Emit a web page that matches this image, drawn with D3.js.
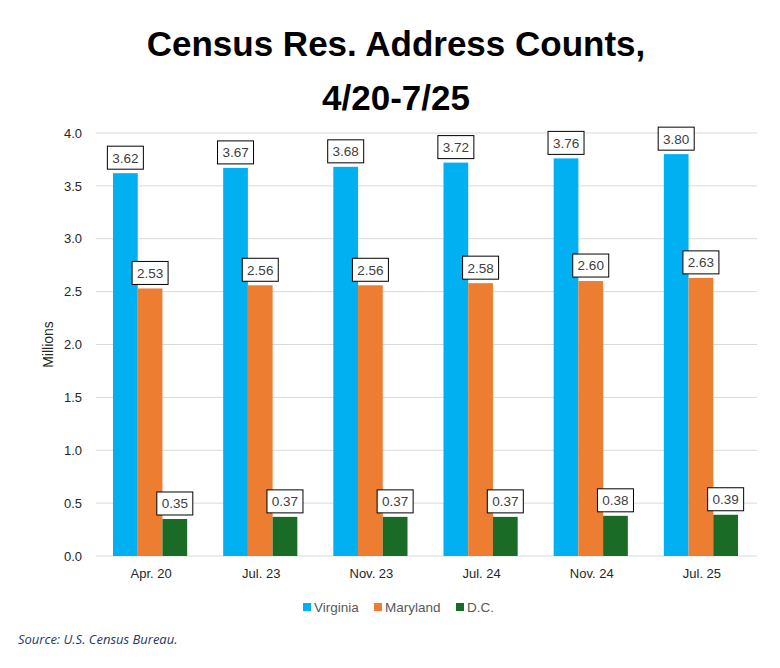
<!DOCTYPE html>
<html>
<head>
<meta charset="utf-8">
<script src="https://cdn.jsdelivr.net/npm/d3@7"></script>
<style>
  body { margin: 0; background: #fff; }
  svg text { font-family: "Liberation Sans", Arial, sans-serif; }
</style>
</head>
<body>
<svg id="chart" width="780" height="668"></svg>
<script>
const width = 780, height = 668;

const categories = ['Apr. 20', 'Jul. 23', 'Nov. 23', 'Jul. 24', 'Nov. 24', 'Jul. 25'];
const seriesNames = ['Virginia', 'Maryland', 'D.C.'];
const virginia = [3.62, 3.67, 3.68, 3.72, 3.76, 3.80];
const maryland = [2.53, 2.56, 2.56, 2.58, 2.60, 2.63];
const dc = [0.35, 0.37, 0.37, 0.37, 0.38, 0.39];
const yTicks = [0, 0.5, 1, 1.5, 2, 2.5, 3, 3.5, 4];

const colors = {'Virginia': '#00b0f0', 'Maryland': '#ed7d31', 'D.C.': '#1a6b25'};
const seriesValues = {'Virginia': virginia, 'Maryland': maryland, 'D.C.': dc};

const fig = {
  margin: {top: 133, right: 23, bottom: 112, left: 96}
};
fig.height = height - fig.margin.top - fig.margin.bottom;
fig.width = width - fig.margin.right - fig.margin.left;

const svg = d3.select('#chart');

const x = d3.scaleBand()
  .domain(categories)
  .range([0, fig.width]);

const xInner = d3.scaleBand()
  .domain(seriesNames)
  .range([17, x.bandwidth() - 19]);

const y = d3.scaleLinear()
  .domain([0, 4])
  .range([fig.height, 0]);

const g = svg.append('g')
  .attr('transform', 'translate(' + fig.margin.left + ',' + fig.margin.top + ')');

// gridlines
g.append('g')
  .selectAll('line')
  .data(yTicks)
  .join('line')
    .attr('x1', 0)
    .attr('x2', fig.width)
    .attr('y1', d => y(d))
    .attr('y2', d => y(d))
    .style('stroke', '#d9d9d9')
    .style('stroke-width', 1);

// y axis labels
const yAxis = d3.axisLeft(y)
  .tickValues(yTicks)
  .tickFormat(d3.format('.1f'))
  .tickSize(0)
  .tickPadding(14);

g.append('g')
  .call(yAxis)
  .call(a => a.select('.domain').remove())
  .selectAll('text')
    .style('font-size', '13px')
    .style('fill', '#262626');

// x axis labels
const xAxis = d3.axisBottom(x).tickSize(0).tickPadding(13);
g.append('g')
  .attr('transform', 'translate(0,' + fig.height + ')')
  .call(xAxis)
  .call(a => a.select('.domain').remove())
  .selectAll('text')
    .style('font-size', '13px')
    .style('fill', '#262626');

// bars
const rows = categories.map((c, i) => ({
  cat: c,
  items: seriesNames.map(s => ({series: s, value: seriesValues[s][i]}))
}));

const groups = g.selectAll('.grp')
  .data(rows)
  .join('g')
    .attr('class', 'grp')
    .attr('transform', d => 'translate(' + x(d.cat) + ',0)');

groups.selectAll('rect')
  .data(d => d.items)
  .join('rect')
    .attr('x', d => xInner(d.series))
    .attr('y', d => y(d.value))
    .attr('width', xInner.bandwidth())
    .attr('height', d => fig.height - y(d.value))
    .style('fill', d => colors[d.series]);

// data labels with boxes
const labels = groups.selectAll('.lbl')
  .data(d => d.items)
  .join('g')
    .attr('class', 'lbl')
    .attr('transform', d => 'translate(' + (xInner(d.series) + xInner.bandwidth() / 2) + ',' + (y(d.value) - 15.5) + ')');

labels.append('rect')
  .attr('x', -18)
  .attr('y', -11.5)
  .attr('width', 36)
  .attr('height', 23)
  .style('fill', '#fff')
  .style('stroke', '#000')
  .style('stroke-width', 1);

labels.append('text')
  .attr('text-anchor', 'middle')
  .attr('dy', '0.36em')
  .style('font-size', '13.5px')
  .style('fill', '#404040')
  .text(d => d3.format('.2f')(d.value));

// y axis title
svg.append('text')
  .attr('transform', 'translate(53,' + (fig.margin.top + fig.height / 2) + ') rotate(-90)')
  .attr('text-anchor', 'middle')
  .style('font-size', '14px')
  .style('fill', '#262626')
  .text('Millions');

// title
svg.append('text')
  .attr('text-anchor', 'middle')
  .attr('x', 396)
  .attr('y', 56)
  .style('font-size', '35px')
  .style('font-weight', 'bold')
  .style('fill', '#000')
  .text('Census Res. Address Counts,');
svg.append('text')
  .attr('text-anchor', 'middle')
  .attr('x', 396)
  .attr('y', 110)
  .style('font-size', '35px')
  .style('font-weight', 'bold')
  .style('fill', '#000')
  .text('4/20-7/25');

// legend
const legendX = [303, 374, 456];
const legend = svg.append('g')
  .selectAll('g')
  .data(seriesNames)
  .join('g')
    .attr('transform', (d, i) => 'translate(' + legendX[i] + ',603)');
legend.append('rect')
  .attr('width', 8)
  .attr('height', 8)
  .style('fill', d => colors[d]);
legend.append('text')
  .attr('x', 11)
  .attr('y', 4)
  .attr('dy', '0.36em')
  .style('font-size', '13.5px')
  .style('fill', '#595959')
  .text(d => d);

// source
svg.append('text')
  .attr('x', 18)
  .attr('y', 644)
  .style('font-family', '"Open Sans", sans-serif')
  .style('font-style', 'italic')
  .style('font-size', '13px')
  .style('fill', '#1f3864')
  .text('Source: U.S. Census Bureau.');
</script>
</body>
</html>
